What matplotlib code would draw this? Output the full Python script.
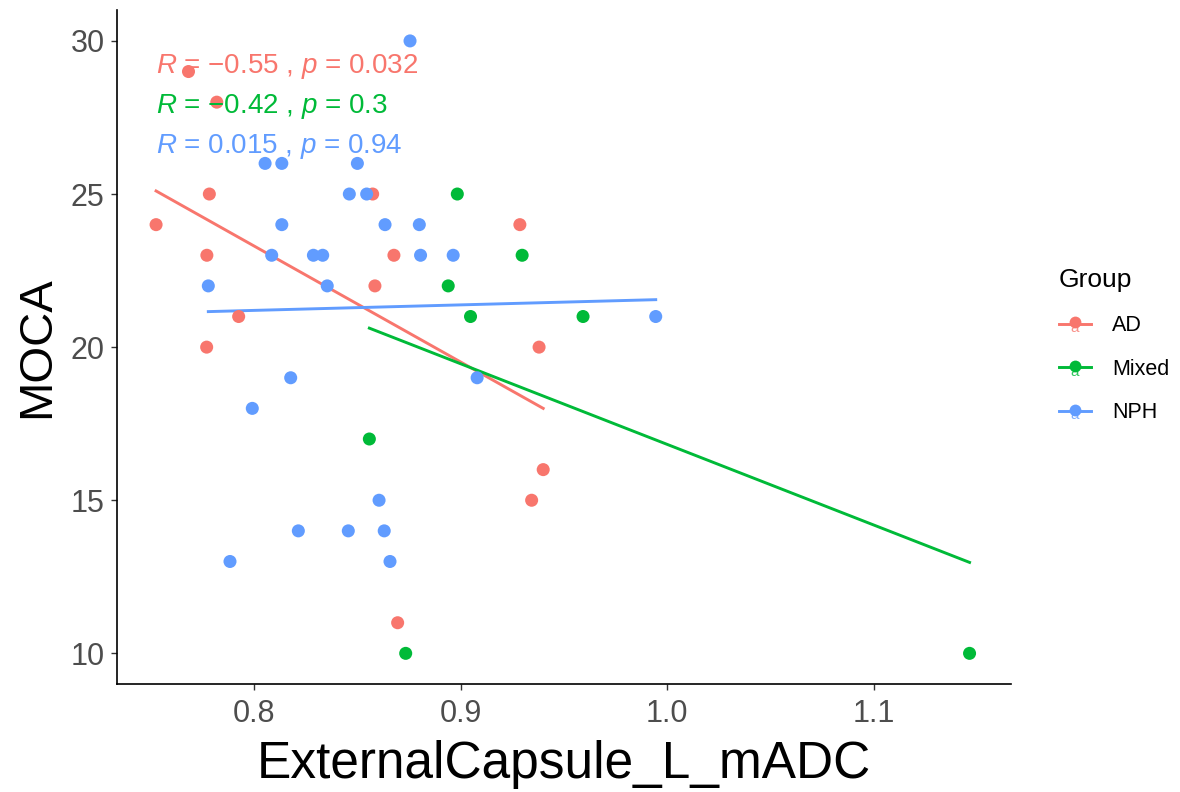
import numpy as np
import matplotlib
matplotlib.use("Agg")
import matplotlib.pyplot as plt
from matplotlib.lines import Line2D
from matplotlib.text import Text
from matplotlib.legend_handler import HandlerBase

plt.rcParams['font.family'] = ['Liberation Sans', 'DejaVu Sans']
plt.rcParams['mathtext.fontset'] = 'custom'
plt.rcParams['mathtext.rm'] = 'Liberation Sans'
plt.rcParams['mathtext.it'] = 'Liberation Sans:italic'

# Data
groups = ['AD', 'Mixed', 'NPH']
colors = {'AD': '#F8766D', 'Mixed': '#00BA38', 'NPH': '#619CFF'}

ad_x = [0.7525, 0.7682, 0.7819, 0.7783, 0.7771, 0.7770, 0.7925, 0.8574,
        0.8585, 0.8677, 0.9287, 0.9380, 0.9400, 0.9344, 0.8695]
ad_y = [24, 29, 28, 25, 23, 20, 21, 25, 22, 23, 24, 20, 16, 15, 11]

mixed_x = [0.8984, 0.8940, 0.9298, 0.9048, 0.9593, 0.8558, 0.8734, 1.1465]
mixed_y = [25, 22, 23, 21, 21, 17, 10, 10]

nph_x = [0.8755, 0.8053, 0.8134, 0.8500, 0.8461, 0.8545, 0.8134, 0.8634,
         0.8800, 0.8085, 0.8287, 0.8332, 0.8806, 0.8964, 0.8354, 0.7778,
         0.8177, 0.7991, 0.9080, 0.9945, 0.8605, 0.8214, 0.8456, 0.8630,
         0.8658, 0.7883]
nph_y = [30, 26, 26, 26, 25, 25, 24, 24, 24, 23, 23, 23, 23, 23, 22, 22,
         19, 18, 19, 21, 15, 14, 14, 14, 13, 13]

# regression lines (end points)
fit_x = {'AD': [0.7525, 0.9400], 'Mixed': [0.8558, 1.1465], 'NPH': [0.7778, 0.9945]}
fit_y = {'AD': [25.1, 18.0], 'Mixed': [20.62, 12.97], 'NPH': [21.16, 21.55]}

data = {'AD': (ad_x, ad_y), 'Mixed': (mixed_x, mixed_y), 'NPH': (nph_x, nph_y)}
cor_labels = {
    'AD': r'$\it{R}$ = −0.55 , $\it{p}$ = 0.032',
    'Mixed': r'$\it{R}$ = −0.42 , $\it{p}$ = 0.3',
    'NPH': r'$\it{R}$ = 0.015 , $\it{p}$ = 0.94',
}
label_y = [29.15, 27.85, 26.55]

fig = plt.figure(figsize=(11.8, 7.92), dpi=100)
ax = fig.add_axes([0.0992, 0.1364, 0.7578, 0.8506])

for g in groups:
    x, y = data[g]
    ax.scatter(x, y, s=88, color=colors[g], edgecolors='none', zorder=3)
    ax.plot(fit_x[g], fit_y[g], color=colors[g], lw=2.1, zorder=2)

for g, ly in zip(groups, label_y):
    ax.text(0.7525, ly, cor_labels[g], color=colors[g], fontsize=20,
            ha='left', va='center', zorder=4)

ax.set_xlim(0.7336, 1.1667)
ax.set_ylim(9, 31)
ax.set_xticks([0.8, 0.9, 1.0, 1.1])
ax.set_xticklabels(['0.8', '0.9', '1.0', '1.1'])
ax.set_yticks([10, 15, 20, 25, 30])
ax.tick_params(labelsize=22, colors='#333333', labelcolor='#4D4D4D',
               length=4, width=1)
ax.tick_params(axis='x', pad=7)
ax.tick_params(axis='y', pad=5)
for side in ['top', 'right']:
    ax.spines[side].set_visible(False)
for side in ['left', 'bottom']:
    ax.spines[side].set_linewidth(1.2)
    ax.spines[side].set_color('black')

ax.set_xlabel('ExternalCapsule_L_mADC', fontsize=37, labelpad=8)
ax.set_ylabel('MOCA', fontsize=34, labelpad=8)


class KeyHandler(HandlerBase):
    def create_artists(self, legend, orig_handle, xdescent, ydescent,
                       width, height, fontsize, trans):
        c = orig_handle.get_color()
        cx = width / 2 - xdescent
        cy = height / 2 - ydescent
        t = Text(cx, cy - 3, 'a', color=c, fontsize=11, ha='center',
                 va='center', alpha=0.8, transform=trans)
        ln = Line2D([-xdescent, width - xdescent], [cy, cy], color=c,
                    lw=2.1, transform=trans)
        pt = Line2D([cx], [cy + 1], marker='o', markersize=8.5, color=c,
                    markeredgewidth=0, linestyle='none', transform=trans)
        return [t, ln, pt]


handles = [Line2D([], [], color=colors[g]) for g in groups]
leg = fig.legend(handles, groups, loc='upper left',
                 bbox_to_anchor=(0.888, 0.675), frameon=False,
                 title='Group', fontsize=15.5, title_fontsize=19,
                 handler_map={Line2D: KeyHandler()},
                 handlelength=1.5, handleheight=1.2, handletextpad=1.0,
                 labelspacing=0.95, borderpad=0)
leg._legend_box.align = 'left'

fig.savefig('out.png', dpi=100)
